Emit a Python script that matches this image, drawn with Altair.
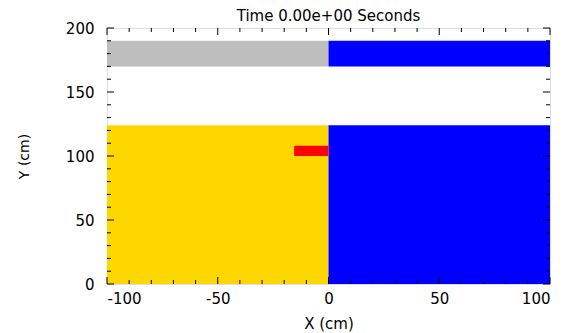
import altair as alt
import pandas as pd

# rectangles (cm)
x_start = [-100, 0, -100, 0, -15.5]
x_end = [0, 100, 0, 100, 0]
y_start = [170, 170, 0, 0, 100]
y_end = [190, 190, 124, 124, 108]
region = ["gray_top", "blue_top", "yellow", "blue_bottom", "red"]
colors = ["#BEBEBE", "#0000FF", "#FFD700", "#0000FF", "#FF0000"]

x_major = [-100, -50, 0, 50, 100]
x_minor = [v for v in range(-90, 100, 10) if v % 50 != 0]
y_major = [0, 50, 100, 150, 200]
y_minor = [v for v in range(10, 200, 10) if v % 50 != 0]

title_text = "Time 0.00e+00 Seconds"

W, H = 443, 256
FONT = "DejaVu Sans"

rects = pd.DataFrame({"x0": x_start, "x1": x_end, "y0": y_start, "y1": y_end, "r": region})

xs = alt.Scale(domain=[-100, 100], nice=False, zero=False)
ys = alt.Scale(domain=[0, 200], nice=False, zero=False)

base_rect = alt.Chart(rects).mark_rect().encode(
    x=alt.X("x0:Q", scale=xs, title="X (cm)",
            axis=alt.Axis(values=x_major, grid=False, ticks=False, domain=False,
                          labelExpr="'' + datum.value",
                          labelFont=FONT, labelFontSize=15, labelPadding=7,
                          labelColor="black", titleFont=FONT, titleFontSize=15,
                          titleFontWeight="normal", titlePadding=10, titleColor="black")),
    x2="x1:Q",
    y=alt.Y("y0:Q", scale=ys, title="Y (cm)",
            axis=alt.Axis(values=y_major, grid=False, ticks=False, domain=False,
                          labelFont=FONT, labelFontSize=15, labelPadding=13,
                          labelColor="black", titleFont=FONT, titleFontSize=14,
                          titleFontWeight="normal", titlePadding=34, titleColor="black")),
    y2="y1:Q",
    color=alt.Color("r:N", scale=alt.Scale(domain=region, range=colors), legend=None),
)


def xticks(length, vals, top):
    d = pd.DataFrame({"v": vals})
    if top:
        y1, y2 = 0, length
    else:
        y1, y2 = H, H - length
    return alt.Chart(d).mark_rule(color="black", strokeWidth=1).encode(
        x=alt.X("v:Q", scale=xs), y=alt.value(y1), y2=alt.value(y2))


def yticks(length, vals, right):
    d = pd.DataFrame({"v": vals})
    if right:
        x1, x2 = W, W - length
    else:
        x1, x2 = 0, length
    return alt.Chart(d).mark_rule(color="black", strokeWidth=1).encode(
        y=alt.Y("v:Q", scale=ys), x=alt.value(x1), x2=alt.value(x2))


layers = [base_rect]
for top in (False, True):
    layers.append(xticks(7, x_major, top))
    layers.append(xticks(4, x_minor, top))
for right in (False, True):
    layers.append(yticks(7, y_major, right))
    layers.append(yticks(4, y_minor, right))

title_layer = alt.Chart(pd.DataFrame({"t": [title_text]})).mark_text(
    font=FONT, fontSize=15, color="black", align="center", baseline="alphabetic"
).encode(x=alt.value(W / 2), y=alt.value(-7), text="t:N")
layers.append(title_layer)

chart = alt.layer(*layers).properties(
    width=W, height=H,
    autosize=alt.AutoSizeParams(type="none"),
    padding={"left": 99, "top": 20, "right": 10, "bottom": 48},
).configure_view(stroke="black", strokeWidth=1).configure(background="white")

chart.save("out.html", embed_options={"renderer": "svg", "actions": False})
